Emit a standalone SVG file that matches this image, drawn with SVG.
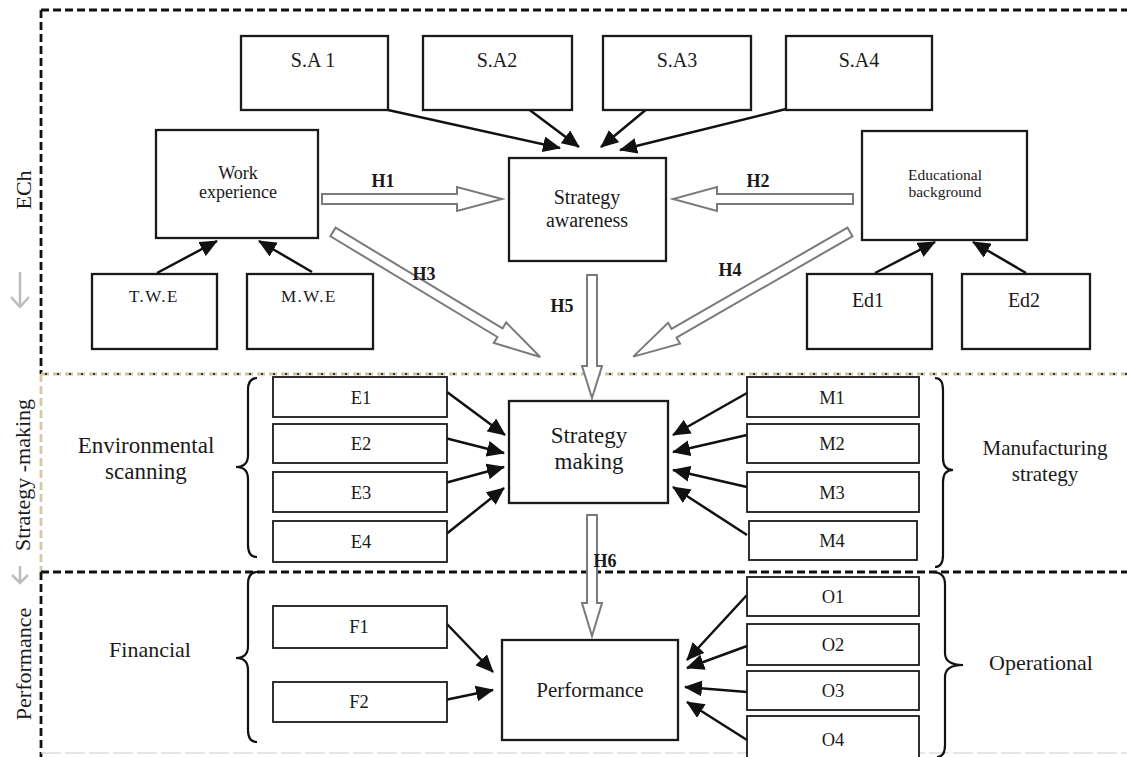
<svg xmlns="http://www.w3.org/2000/svg" width="1127" height="757" viewBox="0 0 1127 757">
<style>
.bx{fill:#fff;stroke:#1a1a1a;stroke-width:2.3}
.sb{fill:#fff;stroke:#1a1a1a;stroke-width:1.8}
.t{font-family:"Liberation Serif",serif;fill:#1a1a1a;text-anchor:middle}
.h{font-family:"Liberation Serif",serif;font-weight:bold;font-size:18px;fill:#1a1a1a;text-anchor:middle}
.ha{fill:#fff;stroke:#7a7a7a;stroke-width:2;stroke-linejoin:miter}
.ar{stroke:#111;stroke-width:2.5;fill:none;marker-end:url(#ah)}
.br{fill:none;stroke:#111;stroke-width:2.2}
.gr{fill:none;stroke:#bdbdbd;stroke-width:2.5}
</style>
<defs>
<marker id="ah" viewBox="0 0 18 16" refX="17" refY="8" markerWidth="18" markerHeight="16" markerUnits="userSpaceOnUse" orient="auto">
<path d="M0,0 L18,8 L0,16 z" fill="#111"/>
</marker>
</defs>
<rect width="1127" height="757" fill="#fff"/>

<g id="frame">
<line x1="41" y1="10" x2="1127" y2="10" stroke="#111" stroke-width="2.8" stroke-dasharray="8 4"/>
<line x1="41" y1="10" x2="41" y2="374" stroke="#111" stroke-width="2.8" stroke-dasharray="8 4"/>
<line x1="41" y1="374" x2="41" y2="572" stroke="#d2c9a5" stroke-width="2.8" stroke-dasharray="8 4"/>
<line x1="41" y1="572" x2="41" y2="757" stroke="#111" stroke-width="2.8" stroke-dasharray="8 4"/>
<line x1="41" y1="374" x2="1127" y2="374" stroke="#cfc6a0" stroke-width="2.8" stroke-dasharray="8 4"/>
<line x1="45" y1="374" x2="1127" y2="374" stroke="#333" stroke-width="2" stroke-dasharray="2 10"/>
<line x1="41" y1="572" x2="1127" y2="572" stroke="#111" stroke-width="2.8" stroke-dasharray="8 4"/>
<line x1="41" y1="753" x2="1127" y2="753" stroke="#ddd" stroke-width="1.5" stroke-dasharray="20 4"/>
<path class="gr" d="M20,272 V307 M11,297 L20,307 L29,297"/>
<path class="gr" d="M20,566 V583 M12,575 L20,583 L28,575"/>
<text class="t" font-size="22" transform="translate(31,190) rotate(-90)">ECh</text>
<text class="t" font-size="22" transform="translate(30,475) rotate(-90)">Strategy -making</text>
<text class="t" font-size="22" transform="translate(31,664) rotate(-90)">Performance</text>
</g>

<g id="connectors">
<polygon class="ha" transform="translate(322,199)" points="0,-5 135,-5 135,-12 180,0 135,12 135,5 0,5"/>
<polygon class="ha" transform="translate(853,199) rotate(180)" points="0,-5 136,-5 136,-12 180,0 136,12 136,5 0,5"/>
<polygon class="ha" transform="translate(333,232) rotate(31.1)" points="0,-5 195,-5 195,-12 242,0 195,12 195,5 0,5"/>
<polygon class="ha" transform="translate(850,232) rotate(150.1)" points="0,-5 203,-5 203,-12 250,0 203,12 203,5 0,5"/>
<polygon class="ha" transform="translate(592,275) rotate(90)" points="0,-5 91,-5 91,-10 123,0 91,10 91,5 0,5"/>
<polygon class="ha" transform="translate(592,515) rotate(90)" points="0,-5 88,-5 88,-10 121,0 88,10 88,5 0,5"/>
<text class="h" x="383" y="187">H1</text>
<text class="h" x="758" y="187">H2</text>
<text class="h" x="424" y="280">H3</text>
<text class="h" x="730" y="276">H4</text>
<text class="h" x="562" y="312">H5</text>
<text class="h" x="605" y="567">H6</text>

<line class="ar" x1="388" y1="110" x2="560" y2="148"/>
<line class="ar" x1="527" y1="108" x2="579" y2="147"/>
<line class="ar" x1="648" y1="108" x2="601" y2="147"/>
<line class="ar" x1="790" y1="108" x2="620" y2="150"/>
<line class="ar" x1="157" y1="273" x2="217" y2="241"/>
<line class="ar" x1="312" y1="272" x2="259" y2="241"/>
<line class="ar" x1="875" y1="273" x2="935" y2="242"/>
<line class="ar" x1="1026" y1="273" x2="973" y2="242"/>
<line class="ar" x1="447" y1="392" x2="505" y2="435"/>
<line class="ar" x1="445" y1="438" x2="504" y2="453"/>
<line class="ar" x1="445" y1="483" x2="504" y2="467"/>
<line class="ar" x1="445" y1="535" x2="504" y2="488"/>
<line class="ar" x1="747" y1="393" x2="673" y2="435"/>
<line class="ar" x1="747" y1="435" x2="673" y2="452"/>
<line class="ar" x1="747" y1="487" x2="673" y2="470"/>
<line class="ar" x1="747" y1="535" x2="673" y2="487"/>
<line class="ar" x1="445" y1="622" x2="493" y2="672"/>
<line class="ar" x1="445" y1="700" x2="493" y2="690"/>
<line class="ar" x1="747" y1="595" x2="687" y2="660"/>
<line class="ar" x1="747" y1="646" x2="687" y2="668"/>
<line class="ar" x1="747" y1="692" x2="685" y2="687"/>
<line class="ar" x1="747" y1="740" x2="687" y2="702"/>
</g>

<g id="braces">
<path class="br" d="M257,378 Q248,378 248,390 L248,455 Q248,467 236,467 Q248,467 248,479 L248,545 Q248,557 257,557"/>
<path class="br" d="M257,572 Q248,572 248,584 L248,646 Q248,658 236,658 Q248,658 248,670 L248,730 Q248,742 257,742"/>
<path class="br" d="M935,378 Q943,378 943,390 L943,458 Q943,470 953,470 Q943,470 943,482 L943,555 Q943,567 935,567"/>
<path class="br" d="M932,572 Q945,572 945,584 L945,653 Q945,665 963,665 Q945,665 945,677 L945,745 Q945,757 937,757"/>
<text class="t" font-size="23" x="146" y="453">Environmental</text>
<text class="t" font-size="23" x="146" y="479">scanning</text>
<text class="t" font-size="21" x="1045" y="455">Manufacturing</text>
<text class="t" font-size="21" x="1045" y="481">strategy</text>
<text class="t" font-size="22" x="150" y="657">Financial</text>
<text class="t" font-size="22" x="1041" y="670">Operational</text>
</g>

<g id="sa1"><rect class="bx" x="241" y="36" width="147" height="74"/><text class="t" font-size="20" x="313" y="67">S.A 1</text></g>
<g id="sa2"><rect class="bx" x="423" y="36" width="149" height="74"/><text class="t" font-size="20" x="497" y="67">S.A2</text></g>
<g id="sa3"><rect class="bx" x="603" y="36" width="148" height="74"/><text class="t" font-size="20" x="677" y="67">S.A3</text></g>
<g id="sa4"><rect class="bx" x="786" y="36" width="146" height="74"/><text class="t" font-size="20" x="859" y="67">S.A4</text></g>
<g id="work"><rect class="bx" x="156" y="130" width="162" height="108"/><text class="t" font-size="18" x="238" y="179">Work</text><text class="t" font-size="18" x="238" y="198">experience</text></g>
<g id="awareness"><rect class="bx" x="509" y="158" width="157" height="103"/><text class="t" font-size="20" x="587" y="204">Strategy</text><text class="t" font-size="20" x="587" y="227">awareness</text></g>
<g id="edu"><rect class="bx" x="862" y="131" width="165" height="109"/><text class="t" font-size="15.5" x="945" y="180">Educational</text><text class="t" font-size="15.5" x="945" y="197">background</text></g>
<g id="twe"><rect class="bx" x="92" y="274" width="125" height="75"/><text class="t" font-size="17" letter-spacing="1.5" x="154" y="302">T.W.E</text></g>
<g id="mwe"><rect class="bx" x="247" y="274" width="126" height="75"/><text class="t" font-size="17" letter-spacing="1.5" x="309" y="302">M.W.E</text></g>
<g id="ed1"><rect class="bx" x="807" y="274" width="125" height="75"/><text class="t" font-size="20" x="868" y="307">Ed1</text></g>
<g id="ed2"><rect class="bx" x="962" y="274" width="128" height="75"/><text class="t" font-size="20" x="1024" y="307">Ed2</text></g>

<g id="e1"><rect class="sb" x="273" y="377" width="174" height="40"/><text class="t" font-size="18.5" x="361" y="404">E1</text></g>
<g id="e2"><rect class="sb" x="273" y="424" width="174" height="39"/><text class="t" font-size="18.5" x="361" y="450">E2</text></g>
<g id="e3"><rect class="sb" x="273" y="472" width="174" height="40"/><text class="t" font-size="18.5" x="361" y="499">E3</text></g>
<g id="e4"><rect class="sb" x="273" y="521" width="174" height="41"/><text class="t" font-size="18.5" x="361" y="548">E4</text></g>
<g id="smaking"><rect class="bx" x="509" y="401" width="159" height="102"/><text class="t" font-size="23" x="589" y="443">Strategy</text><text class="t" font-size="23" x="589" y="469">making</text></g>
<g id="m1"><rect class="sb" x="747" y="377" width="172" height="40"/><text class="t" font-size="18.5" x="832" y="404">M1</text></g>
<g id="m2"><rect class="sb" x="747" y="424" width="172" height="39"/><text class="t" font-size="18.5" x="832" y="450">M2</text></g>
<g id="m3"><rect class="sb" x="747" y="472" width="172" height="40"/><text class="t" font-size="18.5" x="832" y="499">M3</text></g>
<g id="m4"><rect class="sb" x="749" y="521" width="168" height="39"/><text class="t" font-size="18.5" x="832" y="547">M4</text></g>

<g id="f1"><rect class="sb" x="273" y="606" width="174" height="42"/><text class="t" font-size="18.5" x="359" y="633">F1</text></g>
<g id="f2"><rect class="sb" x="273" y="682" width="174" height="40"/><text class="t" font-size="18.5" x="359" y="708">F2</text></g>
<g id="perf"><rect class="bx" x="502" y="640" width="176" height="100"/><text class="t" font-size="21" x="590" y="697">Performance</text></g>
<g id="o1"><rect class="sb" x="747" y="577" width="172" height="39"/><text class="t" font-size="18.5" x="833" y="603">O1</text></g>
<g id="o2"><rect class="sb" x="747" y="624" width="172" height="41"/><text class="t" font-size="18.5" x="833" y="651">O2</text></g>
<g id="o3"><rect class="sb" x="747" y="671" width="172" height="39"/><text class="t" font-size="18.5" x="833" y="697">O3</text></g>
<g id="o4"><rect class="sb" x="747" y="716" width="172" height="45"/><text class="t" font-size="18.5" x="833" y="746">O4</text></g>
</svg>
